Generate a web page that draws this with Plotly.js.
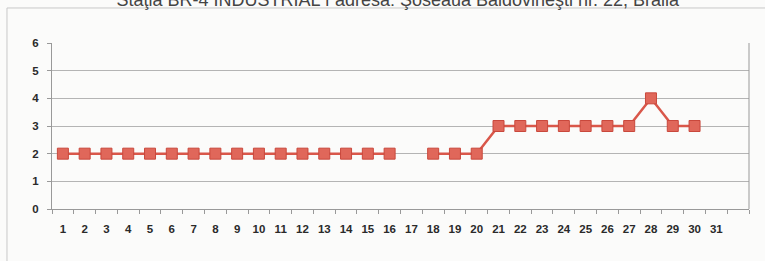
<!DOCTYPE html>
<html><head><meta charset="utf-8">
<script src="https://cdn.plot.ly/plotly-3.0.1.min.js"></script>
<style>html,body{margin:0;padding:0;background:#fbfbfa;}</style>
</head><body>
<div id="chart" style="width:765px;height:261px;"></div>
<script>
const days = [1,2,3,4,5,6,7,8,9,10,11,12,13,14,15,16,17,18,19,20,21,22,23,24,25,26,27,28,29,30,31];
const values = [2,2,2,2,2,2,2,2,2,2,2,2,2,2,2,2,null,2,2,2,3,3,3,3,3,3,3,4,3,3,null];
const tickLabels = days.map(String);
const yTicks = [0,1,2,3,4,5,6];
const titleText = "Staţia BR-4 INDUSTRIAL î adresa: Şoseaua Baldovineşti nr. 22, Brăila";

const trace = {
  x: days, y: values, type: 'scatter', mode: 'lines+markers',
  connectgaps: false,
  line: {color: '#d9574a', width: 2.5},
  marker: {symbol: 'square', size: 11, color: '#e0675a', line: {color: '#c9483c', width: 1}},
  hoverinfo: 'skip'
};
const tf = {family: 'Liberation Sans, Arial, sans-serif', size: 11.5, color: '#2a2a2a', weight: 'bold'};
const layout = {
  width: 765, height: 261,
  margin: {l: 52, r: 16, t: 43, b: 52},
  paper_bgcolor: '#fbfbfa', plot_bgcolor: '#fbfbfa',
  showlegend: false,
  title: {text: titleText, x: 0.52, xanchor: 'center', y: 1, yref: 'container', yanchor: 'middle',
          font: {family: 'Liberation Sans, Arial, sans-serif', size: 18, color: '#444'}},
  xaxis: {range: [0.5, 32.5], tickvals: days, ticktext: tickLabels, ticks: '', showgrid: false,
          zeroline: false, showline: true, linecolor: '#999', linewidth: 1, mirror: false,
          ticklabelstandoff: 9,
          tickfont: tf,
          minor: {ticks: 'outside', tick0: 0.5, dtick: 1, ticklen: 4, tickcolor: '#999', showgrid: false}},
  yaxis: {range: [0, 6], tickvals: yTicks, ticks: 'outside', ticklen: 4, tickcolor: '#999',
          showgrid: true, gridcolor: '#b4b4b4', gridwidth: 1, zeroline: false,
          showline: true, linecolor: '#999', linewidth: 1,
          ticklabelstandoff: 6,
          tickfont: tf},
  shapes: [
    {type: 'line', xref: 'paper', yref: 'paper', x0: 1, x1: 1, y0: 0, y1: 1, line: {color: '#999', width: 1}},
    {type: 'rect', xref: 'paper', yref: 'paper', x0: -0.0646, x1: 1.5, y0: -1, y1: 1.211, line: {color: '#c8c8c8', width: 1}}
  ]
};
Plotly.newPlot('chart', [trace], layout, {staticPlot: true, displayModeBar: false});
</script>
</body></html>
